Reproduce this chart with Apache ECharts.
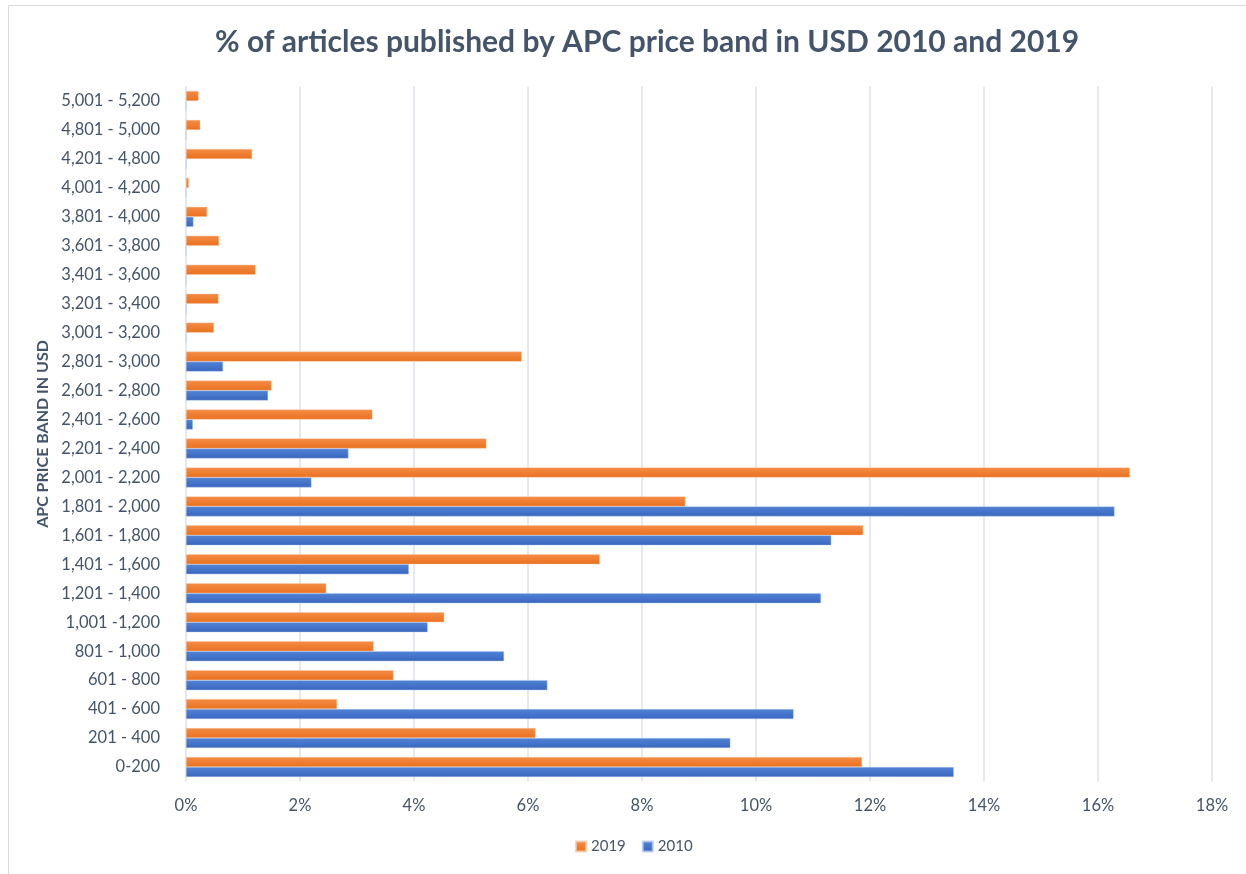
<!DOCTYPE html>
<html>
<head>
<meta charset="utf-8">
<title>% of articles published by APC price band in USD 2010 and 2019</title>
<script src="https://cdn.jsdelivr.net/npm/echarts@6/dist/echarts.min.js"></script>
<style>
  html, body { margin: 0; padding: 0; background: #fff; }
  #chart { width: 1246px; height: 874px; }
</style>
</head>
<body>
<div id="chart"></div>
<script>
// APC price bands (USD), bottom to top
const priceBands = [
  '0-200', '201 - 400', '401 - 600', '601 - 800', '801 - 1,000', '1,001 -1,200',
  '1,201 - 1,400', '1,401 - 1,600', '1,601 - 1,800', '1,801 - 2,000', '2,001 - 2,200',
  '2,201 - 2,400', '2,401 - 2,600', '2,601 - 2,800', '2,801 - 3,000', '3,001 - 3,200',
  '3,201 - 3,400', '3,401 - 3,600', '3,601 - 3,800', '3,801 - 4,000', '4,001 - 4,200',
  '4,201 - 4,800', '4,801 - 5,000', '5,001 - 5,200'
];

// Share of articles (%) per band
const share2010 = [
  13.47, 9.55, 10.66, 6.34, 5.58, 4.24,
  11.14, 3.91, 11.32, 16.29, 2.20,
  2.85, 0.12, 1.44, 0.65, 0,
  0, 0, 0, 0.13, 0,
  0, 0, 0
];
const share2019 = [
  11.86, 6.13, 2.65, 3.64, 3.29, 4.53,
  2.46, 7.26, 11.88, 8.76, 16.56,
  5.27, 3.27, 1.50, 5.89, 0.49,
  0.57, 1.22, 0.58, 0.37, 0.05,
  1.16, 0.25, 0.22
];

const xTicks = { min: 0, max: 18, step: 2 };

const textColor = '#44546A';
const fontFamily = 'Lato, "Open Sans", sans-serif';

function grad(top, bottom) {
  return new echarts.graphic.LinearGradient(0, 0, 0, 1, [
    { offset: 0, color: top },
    { offset: 1, color: bottom }
  ]);
}

const chart = echarts.init(document.getElementById('chart'), null, { renderer: 'canvas' });

chart.setOption({
  backgroundColor: '#ffffff',
  animation: false,
  textStyle: { fontFamily: fontFamily },
  graphic: [{
    type: 'rect',
    shape: { x: 8.5, y: 5.5, width: 1260, height: 900 },
    style: { fill: 'none', stroke: '#D9D9D9', lineWidth: 1 },
    silent: true
  }],
  title: {
    text: '% of articles published by APC price band in USD 2010 and 2019',
    left: 210,
    top: 22,
    textStyle: { color: textColor, fontSize: 30, fontWeight: 'bold', fontFamily: fontFamily }
  },
  legend: {
    data: ['2019', '2010'],
    bottom: 15,
    left: 570,
    itemWidth: 10,
    itemHeight: 10,
    itemGap: 16,
    icon: 'rect',
    textStyle: { color: textColor, fontSize: 15, fontFamily: fontFamily }
  },
  grid: { left: 186, right: 34, top: 86.5, bottom: 92.5, containLabel: false },
  xAxis: {
    type: 'value',
    min: xTicks.min,
    max: xTicks.max,
    interval: xTicks.step,
    axisLine: { show: false },
    axisTick: { show: false },
    splitLine: { show: true, lineStyle: { color: '#DDE1E8', width: 1.5 } },
    axisLabel: {
      color: textColor, fontSize: 16.5, margin: 16, fontFamily: fontFamily,
      formatter: v => v + '%'
    }
  },
  yAxis: {
    type: 'category',
    data: priceBands,
    name: 'APC PRICE BAND IN USD',
    nameLocation: 'middle',
    nameGap: 133,
    nameRotate: 90,
    nameTextStyle: { color: textColor, fontSize: 16, fontWeight: 'bold', fontFamily: fontFamily },
    axisLine: { show: false },
    axisTick: { show: false },
    axisLabel: { color: textColor, fontSize: 16.5, margin: 26, fontFamily: fontFamily }
  },
  series: [
    {
      name: '2019',
      type: 'bar',
      data: share2019,
      barWidth: 10,
      barGap: '0%',
      itemStyle: { color: grad('#F58C47', '#E9711E'), borderColor: 'rgba(248,200,170,0.8)', borderWidth: 0.5 }
    },
    {
      name: '2010',
      type: 'bar',
      data: share2010,
      barWidth: 10,
      barGap: '0%',
      itemStyle: { color: grad('#5183D6', '#3A66BE'), borderColor: 'rgba(180,200,235,0.8)', borderWidth: 0.5 }
    }
  ]
});
</script>
</body>
</html>
